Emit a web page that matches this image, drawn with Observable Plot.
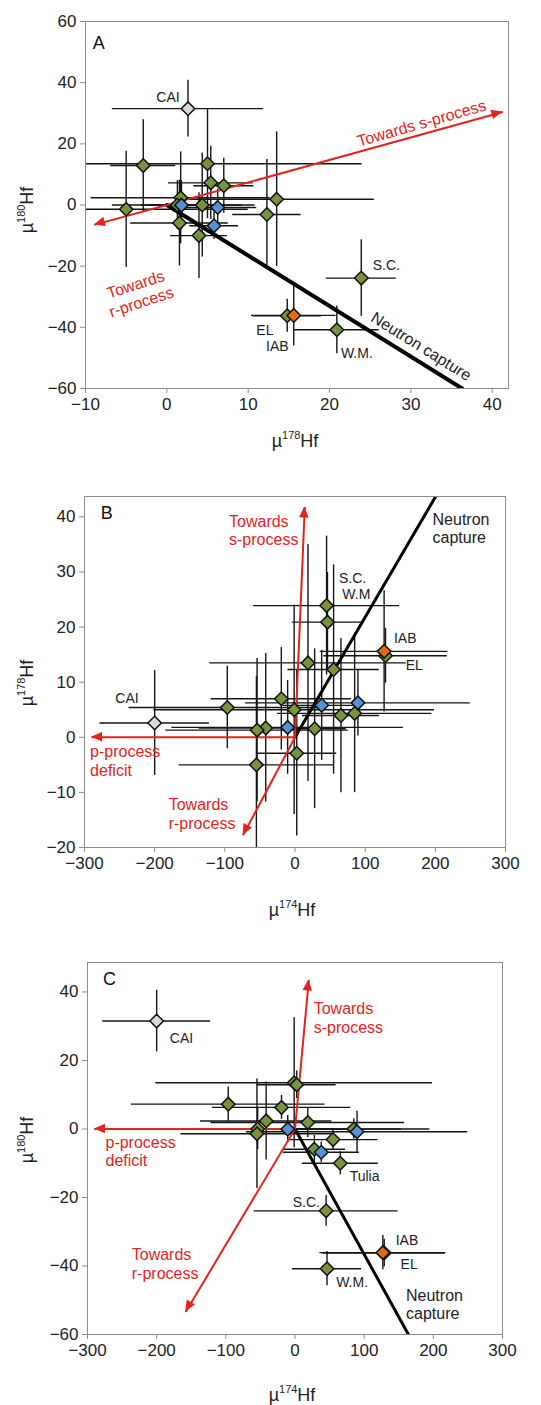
<!DOCTYPE html>
<html>
<head>
<meta charset="utf-8">
<script src="https://cdn.jsdelivr.net/npm/d3@7"></script>
<script src="https://cdn.jsdelivr.net/npm/@observablehq/plot@0.6"></script>
<style>
  body { margin: 0; background: #fff; }
  #charts { width: 541px; }
  #charts svg { display: block; }
</style>
</head>
<body>
<div id="charts"></div>
<script>
// Hf isotope anomalies (µ units) for each sample, with 2SD uncertainties.
const sampleId = ["CAI","m1","m2","m3","m4","m5","m6","m7","m8","m9","m10","Tulia","m12","S.C.","W.M.","EL","i1","i2","i3","IAB"];
const group    = ["cai","g","g","g","g","g","g","g","g","g","g","g","g","g","g","g","b","b","b","iab"];
const mu174 = [-200, -96.5, -19.5, -41.7, -54, -55, -1.2, 2.5, 28, 18.5, 55, 65.5, 85, 45, 46.3, 129, -10.5, 38, 89.7, 127];
const mu178 = [2.6, 5.4, 7.0, 1.7, 1.3, -5.0, 5.0, -2.9, 1.55, 13.5, 12.3, 3.95, 4.35, 23.9, 20.9, 14.8, 1.8, 5.8, 6.25, 15.6];
const mu180 = [31.5, 7.25, 6.3, 2.35, 0, -1.4, 13.5, 12.9, -5.9, 1.9, -3.1, -10.0, 0, -23.9, -40.8, -36.2, -0.05, -6.8, -0.8, -36.1];

// uncertainties as plotted in each panel
const err174  = [78, 140, 100, 95, 130, 110, 200, 57, 45, 140, 65, 55, 110, 104, 50, 88, 165, 55, 160, 91];
const err178A = [9.3, 5.2, 3.7, 11, 8, 15, 19, 4, 6, 12, 4.2, 3.5, 6.5, 4.3, 5.2, 4.2, 5, 3, 4.8, 5.2];
const err180A = [9.3, 12, 9, 15, 8, 19, 18, 15, 14, 22, 18, 14, 17, 12.5, 7.8, 5.4, 8, 4.5, 6, 10];
const err178B = [9.5, 7.5, 9.3, 13.5, 13, 16, 19, 15, 14.5, 21.5, 19, 14, 14.4, 12.6, 9, 5, 8.5, 10, 6, 11];
const err180C = [9, 5, 3.5, 11.4, 6, 16, 19, 4, 4, 4.4, 3, 3.4, 3, 4.5, 5, 4, 4, 3, 6, 5];

const groupFill = {g: "#77933c", b: "#5591d6", iab: "#e46c0a", cai: "#d9d9d9"};
const drawRank = {g: 0, b: 1, iab: 2, cai: 3};

const rows = sampleId.map((id, i) => ({
  id, g: group[i],
  a174: mu174[i], a178: mu178[i], a180: mu180[i],
  e174: err174[i], e178A: err178A[i], e180A: err180A[i], e178B: err178B[i], e180C: err180C[i]
}));
const markerOrder = rows.slice().sort((a, b) => drawRank[a.g] - drawRank[b.g]);

const RED = "#e3241c";
const INK = "#222";
const FONT = "'Liberation Sans', Arial, sans-serif";

// text marks for one colour, split by anchor (start / middle)
function textMarks(list, fill, fontSize) {
  const common = {x: "x", y: "y", text: "t", rotate: d => d.rotate || 0,
    lineAnchor: "middle", lineHeight: 1.15, fill, fontSize};
  return [
    Plot.text(list.filter(d => d.anchor !== "middle"), {...common, textAnchor: "start"}),
    Plot.text(list.filter(d => d.anchor === "middle"), {...common, textAnchor: "middle"})
  ];
}

function drawPanel(cfg) {
  const {xKey, yKey, xErr, yErr, xDomain, yDomain, xTicks, yTicks, height, margin,
         neutron, neutronWidth, arrows, redTexts, blackTexts, labels, letter, xSup, ySup, yLabelPos, xLabelPos} = cfg;
  const chart = Plot.plot({
    width: 541, height,
    marginTop: margin[0], marginRight: margin[1], marginBottom: margin[2], marginLeft: margin[3],
    x: {domain: xDomain},
    y: {domain: yDomain},
    color: {type: "identity"},
    style: {fontFamily: FONT, fontSize: "17px", color: INK, background: "#fff", overflow: "visible"},
    marks: [
      Plot.ruleY(rows, {y: yKey, x1: d => d[xKey] - d[xErr], x2: d => d[xKey] + d[xErr],
        stroke: "#151515", strokeWidth: 1.4, clip: true}),
      Plot.ruleX(rows, {x: xKey, y1: d => d[yKey] - d[yErr], y2: d => d[yKey] + d[yErr],
        stroke: "#151515", strokeWidth: 1.4, clip: true}),
      Plot.line(neutron, {x: "x", y: "y", stroke: "#000", strokeWidth: neutronWidth, clip: true}),
      Plot.link(arrows, {x1: "x1", y1: "y1", x2: "x2", y2: "y2", stroke: RED, strokeWidth: 2}),
      Plot.dot(markerOrder, {x: xKey, y: yKey, symbol: "diamond2", r: 6.1,
        fill: d => groupFill[d.g], stroke: "#111", strokeWidth: 1.5}),
      ...textMarks(redTexts, RED, 16),
      ...textMarks(blackTexts, INK, 16),
      Plot.text(labels, {x: "x", y: "y", text: "t", textAnchor: "start", lineAnchor: "middle",
        fill: INK, fontSize: 14}),
      Plot.text([letter], {x: "x", y: "y", text: "t", textAnchor: "start", lineAnchor: "middle",
        fill: "#111", fontSize: 18}),
      Plot.frame({stroke: "#8c8c8c"}),
      Plot.axisX({ticks: xTicks, tickSize: 5, tickPadding: 4, label: null, fontSize: 17}),
      Plot.axisY({ticks: yTicks, tickSize: 5, tickPadding: 4, label: null, fontSize: 17})
    ]
  });

  const svg = d3.select(chart);
  svg.selectAll('[aria-label="x-axis tick"], [aria-label="y-axis tick"]').attr("stroke", "#8c8c8c");

  // filled arrowheads at the end of each red arrow
  const sx = chart.scale("x"), sy = chart.scale("y");
  const heads = svg.append("g").attr("fill", RED);
  for (const a of arrows) {
    const x1 = sx.apply(a.x1), y1 = sy.apply(a.y1), x2 = sx.apply(a.x2), y2 = sy.apply(a.y2);
    const L = Math.hypot(x2 - x1, y2 - y1), ux = (x2 - x1) / L, uy = (y2 - y1) / L;
    const len = 11, w = 4.8, bx = x2 - ux * len, by = y2 - uy * len;
    heads.append("path").attr("d", `M${x2},${y2}L${bx - uy * w},${by + ux * w}L${bx + uy * w},${by - ux * w}Z`);
  }

  // axis titles with superscript mass numbers
  function title(x, y, rot, sup) {
    const t = svg.append("text")
      .attr("transform", `translate(${x},${y}) rotate(${rot})`)
      .attr("text-anchor", "middle").attr("font-size", 18).attr("fill", INK).attr("font-family", FONT);
    t.append("tspan").text("µ");
    t.append("tspan").attr("font-size", 11).attr("dy", -8).text(sup);
    t.append("tspan").attr("dy", 8).text("Hf");
  }
  title(xLabelPos[0], xLabelPos[1], 0, xSup);
  title(yLabelPos[0], yLabelPos[1], -90, ySup);

  document.getElementById("charts").appendChild(chart);
}

// Panel A: µ178Hf vs µ180Hf
drawPanel({
  xKey: "a178", yKey: "a180", xErr: "e178A", yErr: "e180A",
  xDomain: [-10, 42], yDomain: [-60, 60],
  xTicks: [-10, 0, 10, 20, 30, 40], yTicks: [-60, -40, -20, 0, 20, 40, 60],
  height: 460, margin: [21, 33, 72, 85],
  neutron: [{x: 0, y: 0}, {x: 36.3, y: -60}], neutronWidth: 4,
  arrows: [{x1: 0, y1: 0, x2: 41.3, y2: 30.4}, {x1: 0, y1: 0, x2: -8.9, y2: -6.5}],
  redTexts: [
    {x: 31.3, y: 26.9, t: "Towards s-process", rotate: -16, anchor: "middle"},
    {x: -3.5, y: -28.7, t: "Towards\nr-process", rotate: -18, anchor: "middle"}
  ],
  blackTexts: [{x: 31.3, y: -46.1, t: "Neutron capture", rotate: 32, anchor: "middle"}],
  labels: [
    {x: -1.3, y: 35, t: "CAI"}, {x: 25.3, y: -19.9, t: "S.C."}, {x: 11, y: -41.1, t: "EL"},
    {x: 12.2, y: -46.3, t: "IAB"}, {x: 21.4, y: -48.7, t: "W.M."}
  ],
  letter: {x: -9.1, y: 53, t: "A"},
  xSup: "178", ySup: "180", xLabelPos: [295, 447], yLabelPos: [33, 210]
});

// Panel B: µ174Hf vs µ178Hf
drawPanel({
  xKey: "a174", yKey: "a178", xErr: "e174", yErr: "e178B",
  xDomain: [-300, 300], yDomain: [-20, 43.7],
  xTicks: [-300, -200, -100, 0, 100, 200, 300], yTicks: [-20, -10, 0, 10, 20, 30, 40],
  height: 465, margin: [36, 36, 78, 84],
  neutron: [{x: 0, y: 0}, {x: 200.5, y: 43.7}], neutronWidth: 3,
  arrows: [
    {x1: 0, y1: 0, x2: 14, y2: 41.8},
    {x1: 0, y1: 0, x2: -290, y2: 0},
    {x1: 0, y1: 0, x2: -74, y2: -17.8}
  ],
  redTexts: [
    {x: -94, y: 37.6, t: "Towards\ns-process"},
    {x: -292, y: -4.2, t: "p-process\ndeficit"},
    {x: -180, y: -13.85, t: "Towards\nr-process"}
  ],
  blackTexts: [{x: 196, y: 38, t: "Neutron\ncapture"}],
  labels: [
    {x: -256, y: 7.1, t: "CAI"}, {x: 62.7, y: 28.9, t: "S.C."}, {x: 67.5, y: 25.9, t: "W.M"},
    {x: 141, y: 18, t: "IAB"}, {x: 157.7, y: 13.1, t: "EL"}
  ],
  letter: {x: -277, y: 40.6, t: "B"},
  xSup: "174", ySup: "178", xLabelPos: [292, 456], yLabelPos: [33, 223]
});

// Panel C: µ174Hf vs µ180Hf
drawPanel({
  xKey: "a174", yKey: "a180", xErr: "e174", yErr: "e180C",
  xDomain: [-300, 300], yDomain: [-60, 48.6],
  xTicks: [-300, -200, -100, 0, 100, 200, 300], yTicks: [-60, -40, -20, 0, 20, 40],
  height: 480, margin: [37, 39, 71, 87],
  neutron: [{x: 0, y: 0}, {x: 164, y: -60}], neutronWidth: 3,
  arrows: [
    {x1: 0, y1: 0, x2: 20, y2: 43.5},
    {x1: 0, y1: 0, x2: -290, y2: 0},
    {x1: 0, y1: 0, x2: -158, y2: -53.4}
  ],
  redTexts: [
    {x: 27, y: 32.5, t: "Towards\ns-process"},
    {x: -274, y: -6.5, t: "p-process\ndeficit"},
    {x: -236, y: -39.3, t: "Towards\nr-process"}
  ],
  blackTexts: [{x: 160.5, y: -51.2, t: "Neutron\ncapture"}],
  labels: [
    {x: -181, y: 26.5, t: "CAI"}, {x: -3.3, y: -21.4, t: "S.C."}, {x: 79, y: -13.9, t: "Tulia"},
    {x: 145.6, y: -32.5, t: "IAB"}, {x: 152.6, y: -39.5, t: "EL"}, {x: 59.5, y: -44.7, t: "W.M."}
  ],
  letter: {x: -277.7, y: 43.7, t: "C"},
  xSup: "174", ySup: "180", xLabelPos: [292, 476], yLabelPos: [33, 215]
});
</script>
</body>
</html>
